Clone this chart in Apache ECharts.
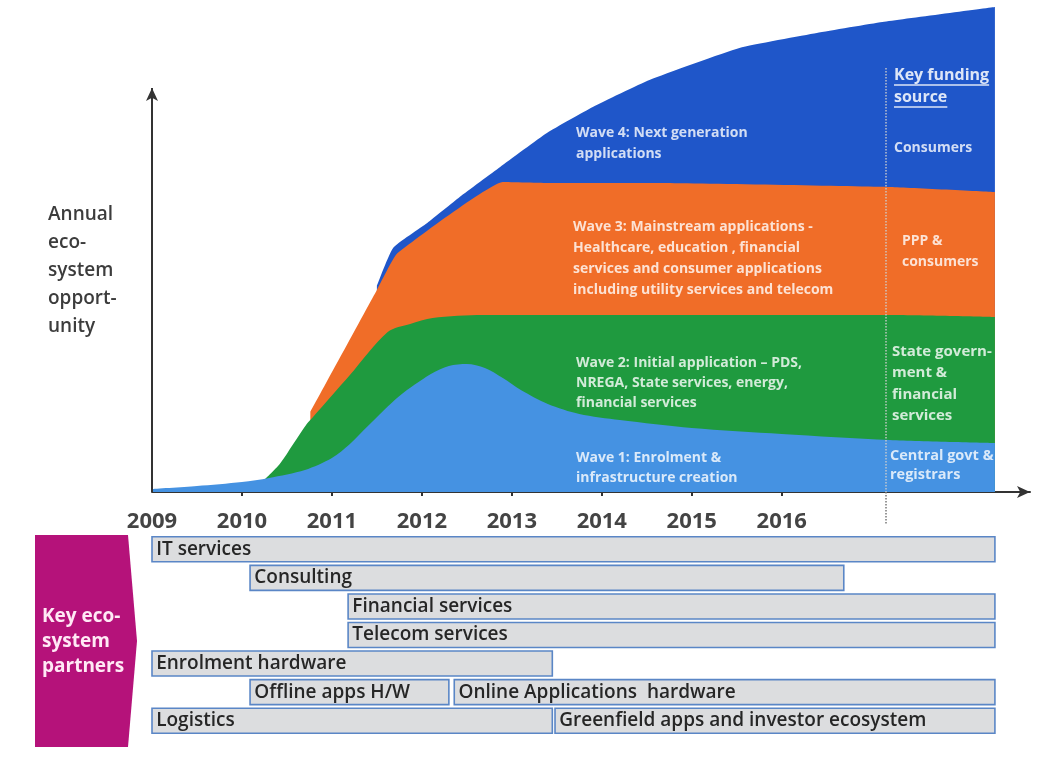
<!DOCTYPE html>
<html><head><meta charset="utf-8">
<script src="https://cdn.jsdelivr.net/npm/echarts@6/dist/echarts.min.js"></script>
<style>html,body{margin:0;padding:0;background:#fff;}#c{width:1053px;height:763px;}</style>
</head><body><div id="c"></div>
<script>
// ---- data ----
const tickYears = [2009, 2010, 2011, 2012, 2013, 2014, 2015, 2016];
// cumulative top of each wave band [year, level]
const wave1 = [[2009.0,0.75],[2009.5,1.5],[2010.0,2.5],[2010.3,3.5],[2010.7,5.5],[2011.0,8.5],[2011.2,12],[2011.4,16.5],[2011.75,24],[2012.1,29.5],[2012.3,31.5],[2012.5,32],[2012.7,31],[2012.9,28.5],[2013.1,25.5],[2013.4,22],[2013.75,19.5],[2014.2,18],[2015,16],[2016,14.5],[2017.2,13],[2018.37,12.25]];
const wave2 = [[2010.26,3.3],[2010.42,7],[2010.57,12],[2010.72,17],[2010.79,18.75],[2011.2,29.25],[2011.62,40],[2011.87,42],[2012.12,43.5],[2012.68,44.25],[2013.42,44.25],[2017.2,44.25],[2018.37,43.75]];
const wave3 = [[2010.76,20],[2011.5,50.5],[2011.72,59.5],[2012.9,77.5],[2013.42,77.25],[2014.64,77.25],[2017.2,76.25],[2018.37,75]];
const wave4 = [[2011.5,51.5],[2011.68,61],[2012.06,67.25],[2012.42,73.75],[2012.87,81.25],[2013.39,89.75],[2013.9,96.25],[2014.53,103],[2015.53,111],[2016.39,114.75],[2017.12,117.5],[2018.37,121.25]];
const fundingYear = 2017.16;
const partnerNames = ['IT services','Consulting','Financial services','Telecom services','Enrolment hardware','Offline apps H/W','Online Applications  hardware','Logistics','Greenfield apps and investor ecosystem'];
const partnerStart = [2009.0, 2010.09, 2011.18, 2011.18, 2009.0, 2010.09, 2012.36, 2009.0, 2013.48];
const partnerEnd   = [2018.37, 2016.69, 2018.37, 2018.37, 2013.45, 2012.3, 2018.37, 2013.45, 2018.37];
const partnerRow   = [0, 1, 2, 3, 4, 5, 5, 6, 6];
const rowCategories = ['0','1','2','3','4','5','6'];

const FONT = '"Open Sans", "Liberation Sans", sans-serif';
const chart = echarts.init(document.getElementById('c'), null, {renderer:'canvas'});

const cv = document.createElement('canvas').getContext('2d');
function tw(text, font){ cv.font = font; return cv.measureText(text).width; }

const areaSeries = (name, data, color, extra) => Object.assign({
  name, type:'line', data, xAxisIndex:0, yAxisIndex:0,
  showSymbol:false, symbol:'none', smooth:0.3,
  lineStyle:{width:0}, areaStyle:{color, opacity:1}, silent:true
}, extra || {});

const partnerData = partnerNames.map((n,i)=>[partnerStart[i], partnerEnd[i], partnerRow[i]]);

const waveTextColor = 'rgba(255,255,255,0.8)';
const fKey = 'bold 16px ' + FONT;
const keyX = 894;
const Z = 100;

const option = {
  animation:false,
  backgroundColor:'#ffffff',
  grid:[
    {left:152, right:23, top:0, height:532, containLabel:false},
    {left:152, right:23, top:535, height:200, containLabel:false}
  ],
  xAxis:[
    {type:'value', gridIndex:0, min:2009, max:2018.76, interval:1,
     splitLine:{show:false},
     axisLine:{show:true, onZero:true, symbol:['none','arrow'], symbolSize:[9,13], lineStyle:{color:'#333', width:2}},
     axisTick:{show:true, length:4, customValues:tickYears.slice(1), lineStyle:{color:'#333', width:2}},
     axisLabel:{show:true, customValues:tickYears, margin:-21, color:'#444', fontFamily:FONT, fontWeight:'bold', fontSize:22,
       formatter:(v)=>String(Math.round(v))}
    },
    {type:'value', gridIndex:1, min:2009, max:2018.76, show:false}
  ],
  yAxis:[
    {type:'value', gridIndex:0, min:-10, max:123, show:false},
    {type:'category', gridIndex:1, data:rowCategories, inverse:true, show:false}
  ],
  series:[
    areaSeries('Wave 4', wave4, '#1f56c9', {smooth:0.15}),
    areaSeries('Wave 3', wave3, '#f06d28', {smooth:0.1}),
    areaSeries('Wave 2', wave2, '#1f9a3f'),
    areaSeries('Wave 1', wave1, '#4592e2', {
      markLine:{
        silent:true, animation:false, symbol:['none','none'], label:{show:false},
        emphasis:{disabled:true},
        data:[
          [{coord:[2009,0], symbol:'none', lineStyle:{color:'#333', width:2, type:'solid'}},
           {coord:[2009,101], symbol:'arrow', symbolSize:[9,13]}],
          [{coord:[fundingYear,106], lineStyle:{color:'rgba(205,205,205,0.9)', width:1.5, type:'dotted'}},
           {coord:[fundingYear,0]}],
          [{coord:[fundingYear,0], lineStyle:{color:'#777', width:1.5, type:'dotted'}},
           {coord:[fundingYear,-8]}]
        ]
      }
    }),
    {
      type:'custom', name:'Partners', xAxisIndex:1, yAxisIndex:1, silent:true,
      data:partnerData,
      encode:{x:[0,1], y:2},
      renderItem:(params, api)=>{
        const s = api.coord([api.value(0), api.value(2)]);
        const e = api.coord([api.value(1), api.value(2)]);
        const h = api.size([0,1])[1] * 0.875;
        return {
          type:'rect',
          shape:{x:s[0], y:s[1]-h/2, width:e[0]-s[0], height:h},
          style:{fill:'#dcdddf', stroke:'#5a86c6', lineWidth:1.6},
          textContent:{style:{text:partnerNames[params.dataIndex], fill:'#262626', font:'600 19px ' + FONT}},
          textConfig:{position:'insideLeft', distance:5}
        };
      }
    }
  ],
  graphic:[
    {type:'text', z:Z, x:48, y:201, style:{text:'Annual\neco-\nsystem\nopport-\nunity', font:'600 19px '+FONT, fill:'#3c3c3c', lineHeight:28, verticalAlign:'top'}},
    {type:'polygon', z:Z, shape:{points:[[35,535],[128,535],[137,641],[128,747],[35,747]]}, style:{fill:'#b5127a'}},
    {type:'text', z:Z+1, x:42, y:604.5, style:{text:'Key eco-\nsystem\npartners', font:'bold 19px '+FONT, fill:'#ffe9f5', lineHeight:25, verticalAlign:'top'}},
    {type:'text', z:Z, x:576, y:123, style:{text:'Wave 4: Next generation\napplications', font:'bold 14px '+FONT, fill:waveTextColor, lineHeight:20.5, verticalAlign:'top'}},
    {type:'text', z:Z, x:573, y:216.5, style:{text:'Wave 3: Mainstream applications -\nHealthcare, education , financial\nservices and consumer applications\nincluding utility services and telecom', font:'bold 14px '+FONT, fill:waveTextColor, lineHeight:21, verticalAlign:'top'}},
    {type:'text', z:Z, x:576, y:353, style:{text:'Wave 2: Initial application – PDS,\nNREGA, State services, energy,\nfinancial services', font:'bold 14px '+FONT, fill:waveTextColor, lineHeight:20, verticalAlign:'top'}},
    {type:'text', z:Z, x:576, y:448, style:{text:'Wave 1: Enrolment &\ninfrastructure creation', font:'bold 14px '+FONT, fill:waveTextColor, lineHeight:20, verticalAlign:'top'}},
    {type:'text', z:Z, x:keyX, y:64, style:{text:'Key funding\nsource', font:fKey, fill:'rgba(255,255,255,0.85)', lineHeight:22, verticalAlign:'top'}},
    {type:'line', z:Z, shape:{x1:keyX, y1:85, x2:keyX+tw('Key funding', fKey), y2:85}, style:{stroke:'rgba(255,255,255,0.85)', lineWidth:1.5}},
    {type:'line', z:Z, shape:{x1:keyX, y1:107, x2:keyX+tw('source', fKey), y2:107}, style:{stroke:'rgba(255,255,255,0.85)', lineWidth:1.5}},
    {type:'text', z:Z, x:keyX, y:137, style:{text:'Consumers', font:'bold 14px '+FONT, fill:waveTextColor, lineHeight:22, verticalAlign:'top'}},
    {type:'text', z:Z, x:902, y:231, style:{text:'PPP &\nconsumers', font:'bold 14px '+FONT, fill:waveTextColor, lineHeight:21, verticalAlign:'top'}},
    {type:'text', z:Z, x:892, y:341, style:{text:'State govern-\nment &\nfinancial\nservices', font:'bold 15px '+FONT, fill:waveTextColor, lineHeight:21.3, verticalAlign:'top'}},
    {type:'text', z:Z, x:890, y:446, style:{text:'Central govt &\nregistrars', font:'bold 14.5px '+FONT, fill:waveTextColor, lineHeight:19, verticalAlign:'top'}}
  ]
};
chart.setOption(option);
</script>
</body></html>
